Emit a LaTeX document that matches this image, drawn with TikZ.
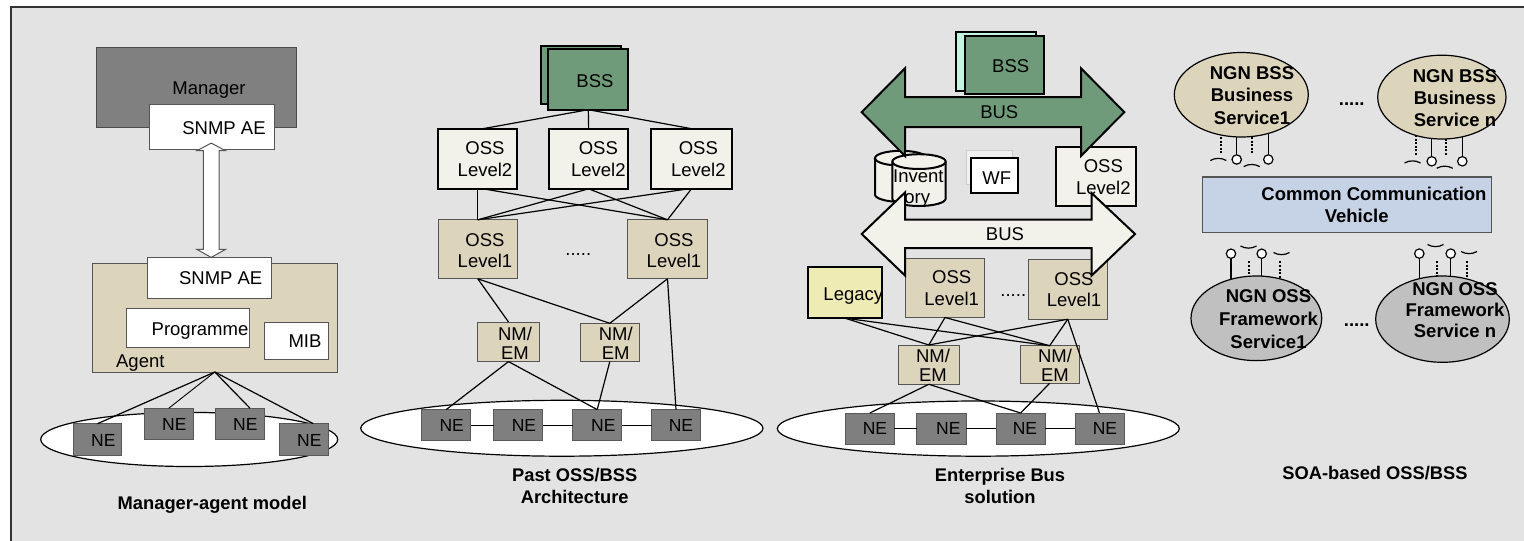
\documentclass[tikz,border=0pt]{standalone}
\usepackage{fontspec}
\setmainfont{Liberation Sans}
\usetikzlibrary{calc,shapes.geometric}
\pgfdeclarelayer{backdrop}
\pgfdeclarelayer{under}
\pgfsetlayers{backdrop,under,main}

\definecolor{panelbg}{HTML}{E3E3E3}
\definecolor{framecol}{HTML}{333333}
\definecolor{edgegray}{HTML}{555555}
\definecolor{mgrgray}{HTML}{808080}
\definecolor{tanfill}{HTML}{DDD4BC}
\definecolor{negray}{HTML}{7F7F7F}
\definecolor{bssgreen}{HTML}{6F9B7B}
\definecolor{offwhite}{HTML}{F2F2EB}
\definecolor{legacyfill}{HTML}{EEEBB4}
\definecolor{ccvblue}{HTML}{C6D2E5}
\definecolor{ossgray}{HTML}{C0C0C0}
\definecolor{mint}{HTML}{C2F5DE}

% box placed by its two corners (x1,y1) (x2,y2), in pixel units
\newcommand\boxat[6]{\node[#1, minimum width={(#4-#2)*1pt}, minimum height={(#5-#3)*1pt}] (#6) at ({(#2+#4)/2},{(#3+#5)/2}) {};}

\tikzset{
  base/.style={inner sep=0pt, outer sep=0pt},
  thinbox/.style={base, draw=edgegray, line width=1pt},
  tanbox/.style={thinbox, fill=tanfill},
  whitebox/.style={thinbox, fill=white},
  mgrbox/.style={thinbox, draw=black!70, fill=mgrgray},
  nebox/.style={base, draw=black!65, fill=negray, line width=1pt},
  heavybox/.style={base, draw=black, line width=2pt, fill=offwhite},
  bssbox/.style={heavybox, fill=bssgreen},
  mintbox/.style={heavybox, fill=mint},
  legacybox/.style={heavybox, fill=legacyfill},
  ghostbox/.style={base, draw=black!20, fill=black!6, line width=0.8pt},
  cloud/.style={base, ellipse, draw=black, fill=white, line width=1.2pt},
  bsscloud/.style={cloud, fill=tanfill},
  osscloud/.style={cloud, fill=ossgray},
  ccvbox/.style={base, draw=edgegray, fill=ccvblue, line width=1.2pt},
  link/.style={draw=black, line width=1.2pt},
  hollow/.style={fill=white, draw=edgegray, line width=1pt, line join=miter},
  busarrow/.style={draw=black, line width=2pt, line join=miter},
  cyl/.style={draw=black, fill=offwhite, line width=2pt},
  ball/.style={base, circle, draw=black, fill=white, line width=1.2pt, minimum size=9.4pt},
  stub/.style={line width=2pt, dash pattern=on 2pt off 1.6pt},
  socket/.style={line width=1.2pt},
  lbl/.style={base, font=\fontsize{18.5}{21.5}\selectfont, text height=13.2pt, text depth=0pt},
  nel/.style={base, font=\fontsize{17.5}{20}\selectfont, text height=12.5pt, text depth=0pt},
  lblm/.style={base, font=\fontsize{18.5}{21.5}\selectfont, align=center},
  nml/.style={base, font=\fontsize{18.5}{19}\selectfont, align=center},
  boldl/.style={base, font=\bfseries\fontsize{18.5}{22.2}\selectfont, text height=13.2pt, text depth=0pt},
  boldm/.style={base, font=\bfseries\fontsize{18.5}{22.2}\selectfont, align=center},
  capl/.style={base, font=\bfseries\fontsize{18.3}{22.4}\selectfont, text height=13.1pt, text depth=0pt},
  capm/.style={base, font=\bfseries\fontsize{18.3}{22.4}\selectfont, align=center},
}

\begin{document}
\begin{tikzpicture}[x=1pt, y=-1pt]
\useasboundingbox (0,0) rectangle (1524,541);
\begin{pgfonlayer}{backdrop}
  \fill[white] (0,0) rectangle (1524,541);
  \fill[panelbg] (11,7) rectangle (1524,541);
  \draw[framecol, line width=1.8pt] (11,541) -- (11,7) -- (1524,7);
\end{pgfonlayer}

% ---------------- Manager / agent model ----------------
\boxat{mgrbox}{96}{47.3}{296.7}{127.7}{mgr}
\boxat{whitebox}{149.7}{104.2}{274.3}{149.1}{snmpm}
\boxat{tanbox}{92.3}{263}{337.3}{372}{agent}
\boxat{whitebox}{147}{257.4}{271}{298.1}{snmpa}
\boxat{whitebox}{126.7}{308.8}{249}{347.5}{prog}
\boxat{whitebox}{264}{322}{328.3}{359.6}{mib}
\node[lbl] (tmgr) at (209,88) {Manager};
\node[lbl] (tsnmpm) at (224,127.7) {SNMP AE};
\node[lbl] (tsnmpa) at (220.7,278.1) {SNMP AE};
\node[lbl] (tprog) at (200,328.5) {Programme};
\node[lbl] (tmib) at (305,341) {MIB};
\node[lbl] (tagent) at (140.3,360.6) {Agent};
% hollow two-way arrow between the SNMP entities
\coordinate (tipm) at ([xshift=-0.8pt, yshift=6pt]snmpm.south);
\coordinate (tipa) at (tipm |- snmpa.north);
\draw[hollow] (tipm) -- ++(14.3,7.6) -- ++(-6.5,0) -- ($(tipa)+(7.8,-8)$) -- ++(6.5,0)
  -- (tipa) -- ++(-14.3,-8) -- ++(6.5,0) -- ($(tipm)+(-7.8,7.6)$) -- ++(-6.5,0) -- cycle;
% managed network
\boxat{cloud}{40.7}{412.4}{337.7}{466.5}{net1}
\boxat{nebox}{73.3}{423.7}{121.7}{455.5}{ma1}
\boxat{nebox}{144.3}{408.2}{193.3}{439.3}{ma2}
\boxat{nebox}{215.7}{408.2}{264.3}{439.3}{ma3}
\boxat{nebox}{279.3}{423.7}{328.3}{455.5}{ma4}
\draw[link] (agent.south) -- (ma1.north);
\draw[link, line width=0.9pt] (agent.south) -- (ma2.north);
\draw[link] (agent.south) -- ([xshift=10pt]ma3.north);
\draw[link] (agent.south) -- ([xshift=9.5pt]ma4.north);
\node[nel] (tma1) at (103.3,440) {NE};
\node[nel] (tma2) at (174.3,423.8) {NE};
\node[nel] (tma3) at (245.3,423.8) {NE};
\node[nel] (tma4) at (309.3,440) {NE};
\node[capl] (cap1) at (212.3,502.8) {Manager-agent model};

% ---------------- Past OSS/BSS architecture ----------------
\boxat{bssbox}{540.7}{45.5}{620.7}{104.2}{bssb2}
\boxat{bssbox}{548.3}{49.3}{628.3}{109.7}{bss2}
\boxat{heavybox}{438.3}{128.7}{517.3}{188.8}{pa2}
\boxat{heavybox}{549}{128.7}{628.3}{188.8}{pb2}
\boxat{heavybox}{651.3}{128.7}{731.7}{188.8}{pc2}
\boxat{tanbox}{438.3}{219.8}{517.3}{278.8}{pa1}
\boxat{tanbox}{627.7}{219.8}{707.3}{278.8}{pb1}
\boxat{tanbox}{477.7}{322}{539.3}{361.6}{pnma}
\boxat{tanbox}{580.3}{323.3}{639.3}{361.6}{pnmb}
\boxat{cloud}{360.7}{400.3}{763}{456.2}{net2}
\boxat{nebox}{421.7}{409.6}{470.7}{440.7}{pne1}
\boxat{nebox}{493.7}{409.6}{542.7}{440.7}{pne2}
\boxat{nebox}{572.7}{409.6}{621.7}{440.7}{pne3}
\boxat{nebox}{651.7}{409.6}{700.3}{440.7}{pne4}
\draw[link] (bss2.south) -- ([xshift=5pt]pa2.north);
\draw[link] (bss2.south) -- (pb2.north);
\draw[link] (bss2.south) -- (pc2.north);
\draw[link] (pa2.south) -- (pa1.north);
\draw[link] ([xshift=5pt]pa2.south) -- (pb1.north);
\draw[link] (pb2.south) -- (pa1.north);
\draw[link] (pb2.south) -- (pb1.north);
\draw[link] ([xshift=-3pt]pc2.south) -- (pa1.north);
\draw[link] (pc2.south) -- (pb1.north);
\draw[link] (pa1.south) -- (pnma.north);
\draw[link] (pa1.south) -- (pnmb.north);
\draw[link] (pb1.south) -- (pnmb.north);
\draw[link] (pb1.south) -- (pne4.north);
\draw[link] (pnma.south) -- (pne1.north);
\draw[link] (pnma.south) -- (pne3.north);
\draw[link] (pnmb.south) -- (pne3.north);
\draw[link] (pne1.east) -- (pne2.west);
\draw[link] (pne2.east) -- (pne3.west);
\draw[link] (pne3.east) -- (pne4.west);
\node[lbl] (tbss2) at (595,80.4) {BSS};
\node[lblm] (tpa2) at (485,159.1) {OSS\\Level2};
\node[lblm] (tpb2) at (598.3,159.1) {OSS\\Level2};
\node[lblm] (tpc2) at (698.3,159.1) {OSS\\Level2};
\node[lblm] (tpa1) at (485,250.6) {OSS\\Level1};
\node[lblm] (tpb1) at (674,250.6) {OSS\\Level1};
\node[lbl, anchor=base] (tpdots) at (578.3,255) {.....};
\node[nml] (tpnma) at (515,343.2) {NM/\\EM};
\node[nml] (tpnmb) at (615.7,343.4) {NM/\\EM};
\node[nel] (tpne1) at (451.7,425.5) {NE};
\node[nel] (tpne2) at (524,425.5) {NE};
\node[nel] (tpne3) at (603.3,425.5) {NE};
\node[nel] (tpne4) at (681,425.5) {NE};
\node[capm] (cap2) at (574.7,485.7) {Past OSS/BSS\\Architecture};

% ---------------- Enterprise bus solution ----------------
\boxat{mintbox}{956}{31.7}{1036}{91.4}{bssb3}
\boxat{bssbox}{964.7}{35.5}{1044}{94.2}{bss3}
\boxat{heavybox}{1055.7}{146.7}{1136}{206.3}{eb2}
% inventory store: two cylinders
\filldraw[cyl] (875,158.2) -- (875,194.5) arc[start angle=180, end angle=360, x radius=25.85pt, y radius=7.4pt]
  -- (926.7,158.2) arc[start angle=0, end angle=180, x radius=25.85pt, y radius=7.4pt] -- cycle;
\draw[line width=2pt] (875,158.2) arc[start angle=180, end angle=360, x radius=25.85pt, y radius=7.4pt];
\filldraw[cyl] (892.3,161.6) -- (892.3,198.6) arc[start angle=180, end angle=360, x radius=26.7pt, y radius=7.4pt]
  -- (945.7,161.6) arc[start angle=0, end angle=180, x radius=26.7pt, y radius=7.4pt] -- cycle;
\draw[line width=2pt] (892.3,161.6) arc[start angle=180, end angle=360, x radius=26.7pt, y radius=7.4pt];
\boxat{ghostbox}{966.7}{150.8}{1012.3}{184.6}{wfb}
\boxat{heavybox, fill=white}{971.3}{157.7}{1018.3}{192.5}{wf}
\boxat{legacybox}{808.3}{266.7}{882}{318.2}{leg}
\boxat{tanbox}{905.7}{258.8}{984.3}{317.5}{ea1}
\boxat{tanbox}{1028.3}{259.8}{1107.3}{319.2}{eb1}
\boxat{tanbox}{898.3}{345}{959.3}{384.3}{enma}
\boxat{tanbox}{1020}{345.7}{1079.3}{383.3}{enmb}
% upper (business) bus and lower (operations) bus
\filldraw[busarrow, fill=bssgreen] (861.7,112.1) -- (905,68.3) -- (905,97.1) -- (1081,97.1) -- (1081,68.3)
  -- (1124.3,112.1) -- (1081,155.9) -- (1081,127.1) -- (905,127.1) -- (905,155.9) -- cycle;
\filldraw[busarrow, fill=offwhite] (861.7,234) -- (905,192.5) -- (905,219.6) -- (1091.7,219.6) -- (1091.7,193.2)
  -- (1135,234) -- (1091.7,275.5) -- (1091.7,248.2) -- (905,248.2) -- (905,275.5) -- cycle;
\boxat{cloud}{777.3}{401}{1179.3}{456.2}{net3}
\boxat{nebox}{845.3}{413}{894.3}{444.1}{ene1}
\boxat{nebox}{916.7}{413}{966}{444.1}{ene2}
\boxat{nebox}{996.3}{413}{1045}{444.1}{ene3}
\boxat{nebox}{1075}{413}{1124}{444.1}{ene4}
\draw[link] (leg.south) -- (enma.north);
\draw[link] (leg.south) -- (enmb.north);
\draw[link] (ea1.south) -- (enma.north);
\draw[link] (ea1.south) -- (enmb.north);
\draw[link] (eb1.south) -- (enma.north);
\draw[link] (eb1.south) -- (enmb.north);
\draw[link] (eb1.south) -- (ene4.north);
\draw[link] (enma.south) -- (ene1.north);
\draw[link] (enma.south) -- (ene3.north);
\draw[link] (enmb.south) -- (ene3.north);
\draw[link] (ene1.east) -- (ene2.west);
\draw[link] (ene2.east) -- (ene3.west);
\draw[link] (ene3.east) -- (ene4.west);
\node[lbl] (tbss3) at (1010.7,65.6) {BSS};
\node[lbl] (tbus1) at (999.3,112.1) {BUS};
\node[lbl] (tbus2) at (1005,234) {BUS};
\node[lbl, anchor=base] (tinv1) at (918.3,182.5) {Invent};
\node[lbl, anchor=base] (tinv2) at (917.3,203) {ory};
\node[lbl] (twf) at (996.7,177.7) {WF};
\node[lblm] (teb2) at (1103.3,177) {OSS\\Level2};
\node[lbl] (tleg) at (853.3,294) {Legacy};
\node[lblm] (tea1) at (951.7,288.2) {OSS\\Level1};
\node[lblm] (teb1) at (1074,289.5) {OSS\\Level1};
\node[lbl, anchor=base] (tedots) at (1013.3,296.5) {.....};
\node[nml] (tenma) at (933,365.4) {NM/\\EM};
\node[nml] (tenmb) at (1055,365.4) {NM/\\EM};
\node[nel] (tene1) at (875,428.6) {NE};
\node[nel] (tene2) at (948.3,428.6) {NE};
\node[nel] (tene3) at (1025,428.6) {NE};
\node[nel] (tene4) at (1105,428.6) {NE};
\node[capm] (cap3) at (1000,485.7) {Enterprise Bus\\solution};

% ---------------- SOA-based OSS/BSS ----------------
\boxat{bsscloud}{1174.3}{52.5}{1308.3}{137}{sb1}
\boxat{bsscloud}{1377.7}{55.2}{1506}{139}{sbn}
\boxat{ccvbox}{1202.3}{177}{1491.7}{232.2}{ccv}
\boxat{osscloud}{1191}{276}{1321.7}{360.6}{so1}
\boxat{osscloud}{1375.7}{276}{1509.3}{362.3}{son}
% offered interfaces (balls) and used interfaces (dotted stubs with sockets)
\node[ball] (ub1) at (1236.7,159.5) {};
\node[ball] (ub2) at (1268.3,159.5) {};
\node[ball] (ub3) at (1431.7,161.3) {};
\node[ball] (ub4) at (1462.3,161.3) {};
\node[ball] (lb1) at (1231,253.7) {};
\node[ball] (lb2) at (1261.7,253.7) {};
\node[ball] (lb3) at (1419.3,253.6) {};
\node[ball] (lb4) at (1450.7,253.6) {};
\coordinate (ud1) at (1221,153.3);
\coordinate (ud2) at (1251.7,153.3);
\coordinate (ud3) at (1415.7,155);
\coordinate (ud4) at (1446,155);
\coordinate (ld1) at (1249,261.3);
\coordinate (ld2) at (1280,261.3);
\coordinate (ld3) at (1436.7,261);
\coordinate (ld4) at (1467.3,261);
\begin{pgfonlayer}{under}
  \draw[link] (ub1.north) -- (ub1.north |- sb1.center);
  \draw[link] (ub2.north) -- (ub2.north |- sb1.center);
  \draw[link] (ub3.north) -- (ub3.north |- sbn.center);
  \draw[link] (ub4.north) -- (ub4.north |- sbn.center);
  \draw[link] (lb1.south) -- (lb1.south |- so1.center);
  \draw[link] (lb2.south) -- (lb2.south |- so1.center);
  \draw[link] (lb3.south) -- (lb3.south |- son.center);
  \draw[link] (lb4.south) -- (lb4.south |- son.center);
  \draw[stub] (ud1) -- (ud1 |- sb1.center);
  \draw[stub] (ud2) -- (ud2 |- sb1.center);
  \draw[stub] (ud3) -- (ud3 |- sbn.center);
  \draw[stub] (ud4) -- (ud4 |- sbn.center);
  \draw[stub] (ld1) -- (ld1 |- so1.center);
  \draw[stub] (ld2) -- (ld2 |- so1.center);
  \draw[stub] (ld3) -- (ld3 |- son.center);
  \draw[stub] (ld4) -- (ld4 |- son.center);
\end{pgfonlayer}
\coordinate (us1) at (1218.3,160.5);
\coordinate (us2) at (1251.7,166.6);
\coordinate (us3) at (1412.5,163);
\coordinate (us4) at (1444.7,168.3);
\coordinate (ls1) at (1248.5,246);
\coordinate (ls2) at (1281.5,252.5);
\coordinate (ls3) at (1435.5,244.5);
\coordinate (ls4) at (1469,251.5);
\foreach \s in {us1,us2,us3,us4}
  \draw[socket] ($(\s)+(-8,0)$) arc[start angle=120, end angle=60, radius=16pt];
\foreach \s in {ls1,ls2,ls3,ls4}
  \draw[socket] ($(\s)+(-8,0)$) arc[start angle=240, end angle=300, radius=16pt];
\node[boldm] (tsb1) at (1252,95.6) {NGN BSS\\Business\\Service1};
\node[boldm] (tsbn) at (1455,98.3) {NGN BSS\\Business\\Service n};
\node[boldl] (tsdots) at (1351.7,99) {.....};
\node[boldl] (tccv1) at (1374,194) {Common Communication};
\node[boldl] (tccv2) at (1356.7,215.7) {Vehicle};
\node[boldm, font=\bfseries\fontsize{18.5}{23}\selectfont] (tso1) at (1268.5,319) {NGN OSS\\Framework\\Service1};
\node[boldm, font=\bfseries\fontsize{18.5}{21.3}\selectfont] (tson) at (1455,310) {NGN OSS\\Framework\\Service n};
\node[boldl, anchor=base] (tsodots) at (1356.7,326) {.....};
\node[capl] (cap4) at (1375,472.7) {SOA-based OSS/BSS};
\end{tikzpicture}
\end{document}
